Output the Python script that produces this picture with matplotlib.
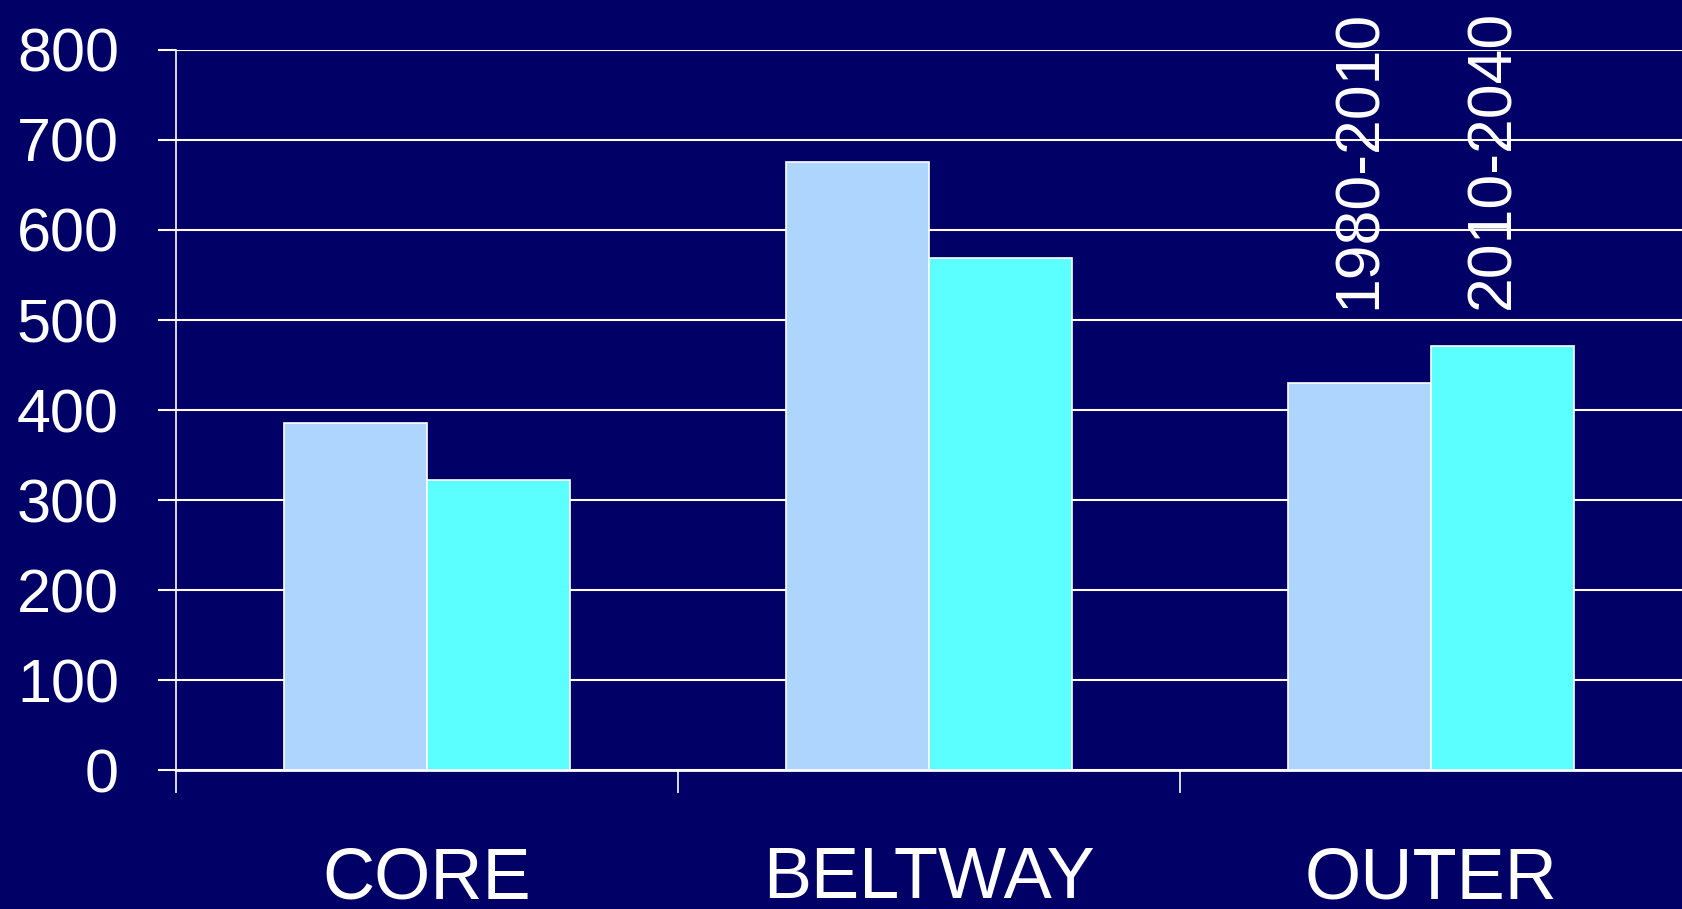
import matplotlib
matplotlib.use("Agg")
import matplotlib.pyplot as plt
import numpy as np

# data
regions = ["CORE", "BELTWAY", "OUTER"]
series_names = ["1980-2010", "2010-2040"]
growth_1980_2010 = [386, 675, 430]
growth_2010_2040 = [322, 569, 471]
y_ticks = [0, 100, 200, 300, 400, 500, 600, 700, 800]

navy = "#000066"
light_blue = "#AED5FD"
cyan = "#5CFFFF"

plt.rcParams["font.family"] = ["Liberation Sans", "DejaVu Sans"]

fig = plt.figure(figsize=(16.82, 9.09), dpi=100, facecolor=navy)
ax = fig.add_axes([0.1046, 0.1529, 0.8954, 0.7921])
ax.set_facecolor(navy)

x = np.arange(len(regions))
width = 1 / 3.5
ax.bar(x - width / 2, growth_1980_2010, width, color=light_blue,
       edgecolor="white", linewidth=1.2, zorder=3)
ax.bar(x + width / 2, growth_2010_2040, width, color=cyan,
       edgecolor="white", linewidth=1.2, zorder=3)

# series names written vertically above the OUTER bars
ax.text(2 - width / 2, 512, series_names[0], rotation=90, color="white",
        fontsize=45, ha="center", va="bottom", zorder=4)
ax.text(2 + width / 2 - 0.02, 512, series_names[1], rotation=90, color="white",
        fontsize=45, ha="center", va="bottom", zorder=4)

ax.set_ylim(0, 800)
ax.set_xlim(-0.5, 2.5)
ax.set_yticks(y_ticks)
ax.set_yticklabels([str(v) for v in y_ticks])
ax.tick_params(axis="y", colors="white", labelsize=44, length=13, width=1.5,
               pad=28, direction="out")

ax.set_xticks(x)
ax.set_xticklabels(regions)
ax.tick_params(axis="x", which="major", length=0, labelsize=52, pad=55,
               labelcolor="white")
ax.set_xticks([-0.5, 0.5, 1.5], minor=True)
ax.tick_params(axis="x", which="minor", length=16.5, width=1.2, color="white",
               direction="out")

ax.yaxis.grid(True, color="white", linewidth=1.5)
ax.set_axisbelow(True)

for side in ["top", "right"]:
    ax.spines[side].set_visible(False)
for side in ["left", "bottom"]:
    ax.spines[side].set_color("white")
ax.spines["left"].set_linewidth(1.2)
ax.spines["bottom"].set_linewidth(2)

fig.savefig("out.png", dpi=100, facecolor=navy)
